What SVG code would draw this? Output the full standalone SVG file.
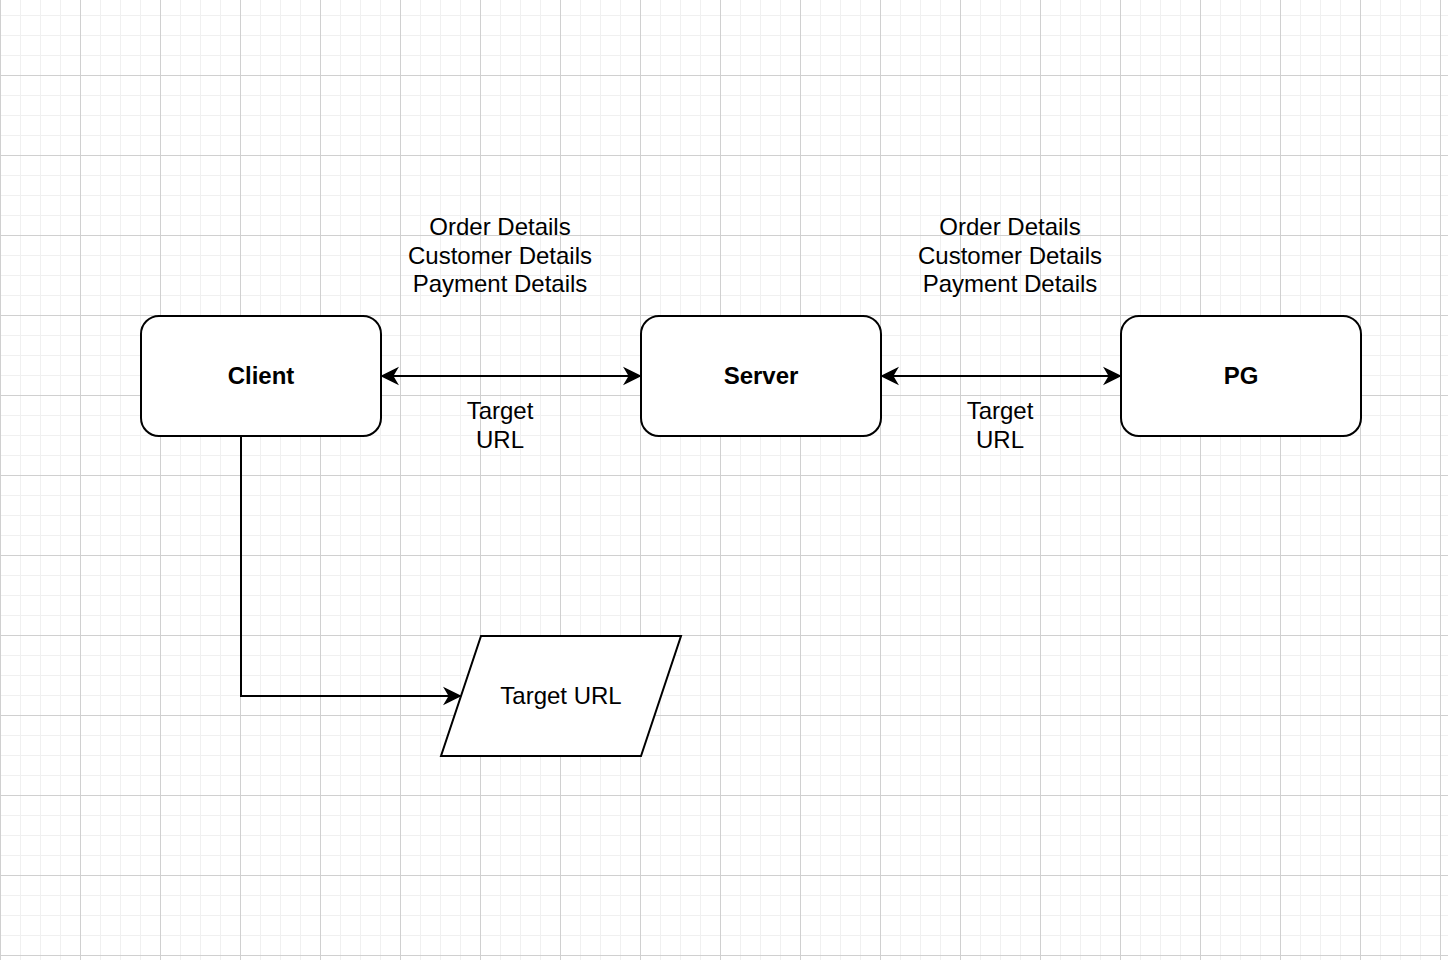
<svg xmlns="http://www.w3.org/2000/svg" width="1448" height="960" viewBox="0 0 1448 960">
  <defs>
    <pattern id="minor" x="0" y="15" width="20" height="20" patternUnits="userSpaceOnUse">
      <path d="M0.5,0 V20 M0,0.5 H20" fill="none" stroke="#f0f0f0" stroke-width="1"/>
    </pattern>
    <pattern id="major" x="0" y="75" width="80" height="80" patternUnits="userSpaceOnUse">
      <path d="M0.5,0 V80 M0,0.5 H80" fill="none" stroke="#d0d0d0" stroke-width="1"/>
    </pattern>
    <marker id="arrow" markerUnits="userSpaceOnUse" markerWidth="20" markerHeight="20" viewBox="-18 -10 20 20" refX="0" refY="0" orient="auto-start-reverse">
      <path d="M0,0 L-15,-7.5 L-10.5,0 L-15,7.5 Z" fill="#000" stroke="#000" stroke-width="1.5" stroke-linejoin="miter"/>
    </marker>
    <style>
      .node { fill: #fff; stroke: #000; stroke-width: 2; }
      .edge { fill: none; stroke: #000; stroke-width: 2; }
      .lbl { font-family: "Liberation Sans", Arial, sans-serif; font-size: 24px; fill: #000; text-anchor: middle; }
      .bold { font-weight: bold; }
    </style>
  </defs>
  <rect width="1448" height="960" fill="#fff"/>
  <rect width="1448" height="960" fill="url(#minor)"/>
  <rect width="1448" height="960" fill="url(#major)"/>

  <g id="connectors">
    <path class="edge" d="M382,376 H640" marker-start="url(#arrow)" marker-end="url(#arrow)"/>
    <path class="edge" d="M882,376 H1120" marker-start="url(#arrow)" marker-end="url(#arrow)"/>
    <path class="edge" d="M241,436 V696 H460" marker-end="url(#arrow)"/>
    <text class="lbl" x="500" y="235">Order Details</text>
    <text class="lbl" x="500" y="264">Customer Details</text>
    <text class="lbl" x="500" y="292">Payment Details</text>
    <text class="lbl" x="500" y="419">Target</text>
    <text class="lbl" x="500" y="448">URL</text>
    <text class="lbl" x="1010" y="235">Order Details</text>
    <text class="lbl" x="1010" y="264">Customer Details</text>
    <text class="lbl" x="1010" y="292">Payment Details</text>
    <text class="lbl" x="1000" y="419">Target</text>
    <text class="lbl" x="1000" y="448">URL</text>
  </g>

  <g id="client">
    <rect class="node" x="141" y="316" width="240" height="120" rx="18" ry="18"/>
    <text class="lbl bold" x="261" y="383.5">Client</text>
  </g>
  <g id="server">
    <rect class="node" x="641" y="316" width="240" height="120" rx="18" ry="18"/>
    <text class="lbl bold" x="761" y="383.5">Server</text>
  </g>
  <g id="pg">
    <rect class="node" x="1121" y="316" width="240" height="120" rx="18" ry="18"/>
    <text class="lbl bold" x="1241" y="383.5">PG</text>
  </g>
  <g id="target-url">
    <polygon class="node" points="481,636 681,636 641,756 441,756"/>
    <text class="lbl" x="561" y="703.5">Target URL</text>
  </g>
</svg>
